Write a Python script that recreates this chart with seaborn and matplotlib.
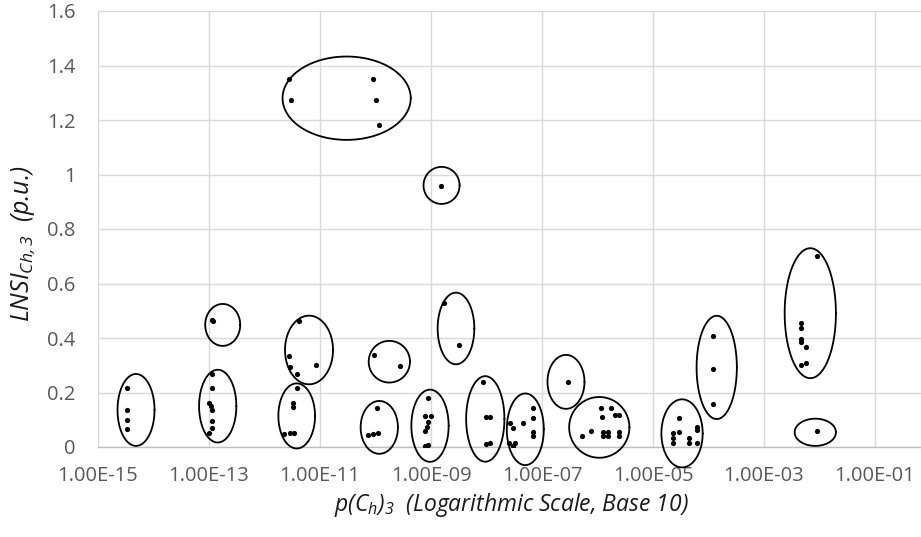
import numpy as np
import pandas as pd
import matplotlib
matplotlib.use("Agg")
import matplotlib.pyplot as plt
import seaborn as sns

# ---- data ----
p_vals = [
    3.4e-15, 3.4e-15, 3.4e-15, 3.4e-15,
    1.15e-13, 1.15e-13, 1.0e-13, 1.08e-13, 1.15e-13, 1.15e-13, 1.15e-13, 1.0e-13,
    1.15e-13, 1.2e-13,
    4.2e-12, 2.8e-12, 2.9e-12, 3.8e-12, 8.5e-12,
    3.8e-12, 3.3e-12, 3.2e-12, 2.2e-12, 2.9e-12, 3.4e-12,
    2.75e-12, 3.0e-12, 9.1e-11, 1.02e-10, 1.15e-10,
    9.5e-11, 2.8e-10,
    1.05e-10, 7.4e-11, 9.0e-11, 1.1e-10,
    1.5e-9,
    8.9e-10, 7.8e-10, 1.0e-9, 8.9e-10, 8.3e-10, 7.8e-10, 7.8e-10, 8.9e-10,
    1.7e-9, 3.16e-9,
    8.5e-9, 9.8e-9, 1.15e-8, 9.8e-9, 1.15e-8,
    2.6e-8, 3.0e-8, 4.5e-8, 6.9e-8, 6.9e-8, 6.9e-8, 6.9e-8, 2.55e-8, 2.95e-8, 3.2e-8,
    2.9e-7,
    5.2e-7, 7.7e-7, 1.15e-6, 1.72e-6, 1.22e-6, 2.07e-6, 2.45e-6,
    1.27e-6, 1.27e-6, 1.53e-6, 1.53e-6, 2.45e-6, 2.45e-6,
    2.98e-5, 2.98e-5, 2.27e-5, 2.27e-5, 2.27e-5, 6.1e-5, 6.1e-5, 6.1e-5, 4.5e-5, 4.5e-5,
    1.22e-4, 1.22e-4, 1.22e-4,
    9.1e-3, 4.6e-3, 4.6e-3, 4.6e-3, 4.6e-3, 5.6e-3, 4.6e-3, 5.6e-3,
    9.1e-3,
]
lnsi_vals = [
    0.218, 0.137, 0.099, 0.066,
    0.268, 0.218, 0.160, 0.150, 0.136, 0.097, 0.069, 0.053,
    0.467, 0.462,
    0.462, 0.335, 0.292, 0.268, 0.301,
    0.218, 0.160, 0.148, 0.046, 0.050, 0.053,
    1.352, 1.275, 1.352, 1.275, 1.180,
    0.338, 0.298,
    0.144, 0.043, 0.046, 0.053,
    0.958,
    0.179, 0.114, 0.114, 0.093, 0.075, 0.060, 0.003, 0.006,
    0.527, 0.374,
    0.240, 0.111, 0.111, 0.011, 0.013,
    0.087, 0.071, 0.089, 0.142, 0.108, 0.056, 0.040, 0.013, 0.004, 0.013,
    0.239,
    0.040, 0.059, 0.142, 0.142, 0.111, 0.117, 0.117,
    0.056, 0.040, 0.056, 0.040, 0.056, 0.040,
    0.105, 0.056, 0.050, 0.032, 0.016, 0.075, 0.062, 0.013, 0.034, 0.013,
    0.409, 0.287, 0.159,
    0.701, 0.456, 0.435, 0.396, 0.384, 0.366, 0.301, 0.307,
    0.060,
]

x_ticks = [1e-15, 1e-13, 1e-11, 1e-9, 1e-7, 1e-5, 1e-3, 1e-1]
x_tick_labels = ["1.00E-15", "1.00E-13", "1.00E-11", "1.00E-09",
                 "1.00E-07", "1.00E-05", "1.00E-03", "1.00E-01"]
y_ticks = [0, 0.2, 0.4, 0.6, 0.8, 1.0, 1.2, 1.4, 1.6]
y_tick_labels = ["0", "0.2", "0.4", "0.6", "0.8", "1", "1.2", "1.4", "1.6"]

# ellipse annotations: (centre log10 x, centre y, width in decades, height in y)
ellipses = [
    (-10.52, 1.280, 2.31, 0.306),
    (-8.81, 0.960, 0.65, 0.136),
    (-14.315, 0.136, 0.667, 0.264),
    (-12.843, 0.150, 0.672, 0.267),
    (-12.753, 0.448, 0.631, 0.154),
    (-11.198, 0.356, 0.865, 0.252),
    (-11.42, 0.114, 0.661, 0.239),
    (-9.751, 0.313, 0.744, 0.153),
    (-9.932, 0.072, 0.672, 0.194),
    (-9.018, 0.078, 0.672, 0.265),
    (-8.55, 0.435, 0.661, 0.263),
    (-8.022, 0.103, 0.690, 0.314),
    (-7.301, 0.065, 0.667, 0.263),
    (-6.568, 0.239, 0.667, 0.198),
    (-5.968, 0.072, 1.086, 0.223),
    (-4.477, 0.050, 0.744, 0.250),
    (-3.852, 0.292, 0.726, 0.379),
    (-2.166, 0.491, 0.924, 0.477),
    (-2.076, 0.054, 0.744, 0.100),
]

df = pd.DataFrame({"p": p_vals, "lnsi": lnsi_vals})

sns.set_theme(style="white")
plt.rcParams["font.family"] = ["Open Sans", "DejaVu Sans"]
plt.rcParams["mathtext.fontset"] = "custom"
plt.rcParams["mathtext.it"] = "Open Sans:italic"
plt.rcParams["mathtext.rm"] = "Open Sans:italic"
plt.rcParams["mathtext.default"] = "it"

fig = plt.figure(figsize=(9.21, 5.37), dpi=100)
ax = fig.add_axes([98 / 921, 1 - 447 / 537, 1 - 98 / 921, (447 - 11) / 537])

sns.scatterplot(data=df, x="p", y="lnsi", ax=ax, color="black", s=14,
                edgecolor="black", linewidth=0, zorder=4, legend=False)

ax.set_xscale("log")
ax.set_xlim(1e-15, 10 ** (-15 + 823 / 55.5))
ax.set_ylim(0, 1.6)

t = np.linspace(0, 2 * np.pi, 400)
for cx, cy, w, h in ellipses:
    ex = 10 ** (cx + (w / 2) * np.cos(t))
    ey = cy + (h / 2) * np.sin(t)
    ax.plot(ex, ey, color="black", lw=1.3, zorder=3, clip_on=False)

ax.set_xticks(x_ticks)
ax.set_xticklabels(x_tick_labels)
ax.xaxis.set_minor_locator(matplotlib.ticker.NullLocator())
ax.set_yticks(y_ticks)
ax.set_yticklabels(y_tick_labels)

ax.grid(True, which="major", color="#d9d9d9", linewidth=1.0)
ax.set_axisbelow(True)
for s in ["top", "right", "left"]:
    ax.spines[s].set_visible(False)
ax.spines["bottom"].set_color("#bfbfbf")
ax.spines["bottom"].set_linewidth(1.0)

ax.tick_params(axis="both", length=0, labelsize=14.5, labelcolor="#595959")
ax.tick_params(axis="x", pad=14)
ax.tick_params(axis="y", pad=16)

ax.set_xlabel(r"$p(C_h)_3$  (Logarithmic Scale, Base 10)", fontsize=16.5,
              style="italic", color="#1a1a1a")
ax.set_ylabel(r"$LNSI_{Ch,3}$  (p.u.)", fontsize=18, style="italic",
              color="#1a1a1a")
ax.xaxis.label.set_verticalalignment("center")
ax.yaxis.label.set_verticalalignment("center")
ax.xaxis.set_label_coords((511 - 98) / 823, (447 - 505) / 436)
ax.yaxis.set_label_coords((24 - 98) / 823, (447 - 244) / 436)

fig.savefig("out.png", dpi=100)
